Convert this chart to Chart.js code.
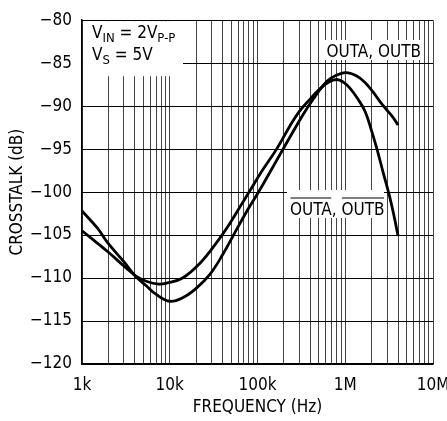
<!DOCTYPE html>
<html><head><meta charset="utf-8">
<script src="https://cdn.jsdelivr.net/npm/chart.js@4.4.0/dist/chart.umd.min.js"></script>
<style>html,body{margin:0;padding:0;background:#fff}#wrap{width:447px;height:421px;position:relative}</style>
</head><body><div id="wrap"><canvas id="c"></canvas></div>
<script>
const FONT = "'Liberation Sans Narrow','DejaVu Sans Condensed','Liberation Sans',sans-serif";

// Curve "OUTA, OUTB"
const FREQ_A  = [1000, 1500, 2000, 3000, 4000, 5400, 7000, 10000, 14000, 20000, 28500, 40000, 56000, 80000, 100000, 140000, 188000, 250000, 330000, 430000, 560000, 700000, 1000000, 1350000, 1700000, 2090000, 2500000, 2950000, 3500000, 4000000];
const XTALK_A = [-102.2, -104.2, -106.0, -108.1, -109.7, -110.9, -111.9, -112.7, -112.3, -111.2, -109.6, -107.3, -104.6, -101.8, -100.2, -97.6, -95.3, -93.1, -91.0, -89.2, -87.6, -86.7, -86.1, -86.5, -87.3, -88.4, -89.5, -90.4, -91.3, -92.2];

// Curve "OUTA, OUTB" (overlined)
const FREQ_B  = [1000, 2000, 3000, 4160, 5500, 7500, 9200, 14000, 22000, 34000, 48000, 66000, 78000, 110000, 165000, 234000, 300000, 380000, 500000, 650000, 800000, 950000, 1130000, 1400000, 1680000, 2000000, 2300000, 2700000, 3200000, 3600000, 4000000];
const XTALK_B = [-104.5, -107.0, -108.6, -109.8, -110.4, -110.7, -110.6, -110.0, -108.3, -105.9, -103.7, -101.4, -100.2, -97.7, -95.0, -92.3, -90.6, -89.4, -88.1, -87.2, -86.9, -87.2, -87.9, -89.2, -90.6, -92.9, -95.0, -97.7, -100.5, -102.8, -105.1];

const X_TICKS = [1000,2000,3000,4000,5000,6000,7000,8000,9000,
                 10000,20000,30000,40000,50000,60000,70000,80000,90000,
                 100000,200000,300000,400000,500000,600000,700000,800000,900000,
                 1000000,2000000,3000000,4000000,5000000,6000000,7000000,8000000,9000000,
                 10000000];
const X_LABELS = {1000:'1k', 10000:'10k', 100000:'100k', 1000000:'1M', 10000000:'10M'};
const Y_MIN = -120, Y_MAX = -80, Y_STEP = 5;
const X_TITLE = 'FREQUENCY (Hz)';
const Y_TITLE = 'CROSSTALK (dB)';
const LABEL_A = 'OUTA, OUTB';
const LABEL_B_WORDS = ['OUTA', ', ', 'OUTB'];

function pts(xs, ys){ return xs.map((x,i)=>({x, y: ys[i]})); }

const notes = {
  id: 'notes',
  beforeDatasetsDraw(chart){
    const {ctx, chartArea: a} = chart;
    ctx.save();
    ctx.fillStyle = '#fff';
    ctx.fillRect(a.left + 1, a.top + 1, 100, 55);
    ctx.fillRect(322, 40, 102, 20);
    ctx.fillRect(287, 190, 97, 28);
    ctx.fillStyle = '#000';
    ctx.textBaseline = 'alphabetic';
    const big = '17px ' + FONT, small = '13px ' + FONT;
    function run(x, y, parts){
      for (const [t, sub] of parts){
        ctx.font = sub ? small : big;
        ctx.fillText(t, x, sub ? y + 4 : y);
        x += ctx.measureText(t).width;
      }
    }
    run(92, 37.5, [['V',0],['IN',1],[' = 2V',0],['P-P',1]]);
    run(92, 59.5, [['V',0],['S',1],[' = 5V',0]]);
    ctx.font = big;
    ctx.fillText(LABEL_A, 326.5, 56.5);
    let x = 290;
    ctx.lineWidth = 1.2;
    ctx.strokeStyle = '#000';
    for (let i = 0; i < LABEL_B_WORDS.length; i++){
      const w = ctx.measureText(LABEL_B_WORDS[i]).width;
      ctx.fillText(LABEL_B_WORDS[i], x, 214.5);
      if (i !== 1){
        ctx.beginPath(); ctx.moveTo(x + 0.5, 198); ctx.lineTo(x + w - 0.5, 198); ctx.stroke();
      }
      x += w;
    }
    ctx.restore();
  }
};

new Chart(document.getElementById('c'), {
  type: 'line',
  data: {
    datasets: [
      {label: LABEL_A, data: pts(FREQ_A, XTALK_A), borderColor: '#000', borderWidth: 2.8, pointRadius: 0, fill: false, tension: 0.4},
      {label: 'OUTA, OUTB (inv)', data: pts(FREQ_B, XTALK_B), borderColor: '#000', borderWidth: 2.8, pointRadius: 0, fill: false, tension: 0.4}
    ]
  },
  options: {
    responsive: true, maintainAspectRatio: false, animation: false,
    layout: {padding: {top: 13, right: 0, left: 0, bottom: 0}},
    plugins: {legend: {display: false}, tooltip: {enabled: false}},
    scales: {
      x: {
        type: 'logarithmic', min: 1000, max: 10000000,
        afterBuildTicks: s => { s.ticks = X_TICKS.map(v => ({value: v})); },
        afterFit: s => { s.height = 57; s.paddingRight = 14; s.paddingLeft = 0; },
        grid: {color: '#444', lineWidth: 1, drawTicks: false},
        border: {color: '#000', width: 1.5},
        ticks: {autoSkip: false, maxRotation: 0, padding: 11, color: '#000', font: {family: FONT, size: 17},
                callback: v => X_LABELS[v] !== undefined ? X_LABELS[v] : ''},
        title: {display: true, text: X_TITLE, color: '#000', font: {family: FONT, size: 17}, padding: {top: 0, bottom: 3}}
      },
      y: {
        min: Y_MIN, max: Y_MAX,
        afterFit: s => { s.width = 82; },
        grid: {color: '#000', lineWidth: 1, drawTicks: false},
        border: {color: '#000', width: 1.5},
        ticks: {stepSize: Y_STEP, padding: 10, color: '#000', font: {family: FONT, size: 17},
                callback: v => String(v).replace('-', '\u2212')},
        title: {display: true, text: Y_TITLE, color: '#000', font: {family: FONT, size: 17}, padding: {top: 7, bottom: 0}}
      }
    }
  },
  plugins: [notes]
});
</script>
</body></html>
